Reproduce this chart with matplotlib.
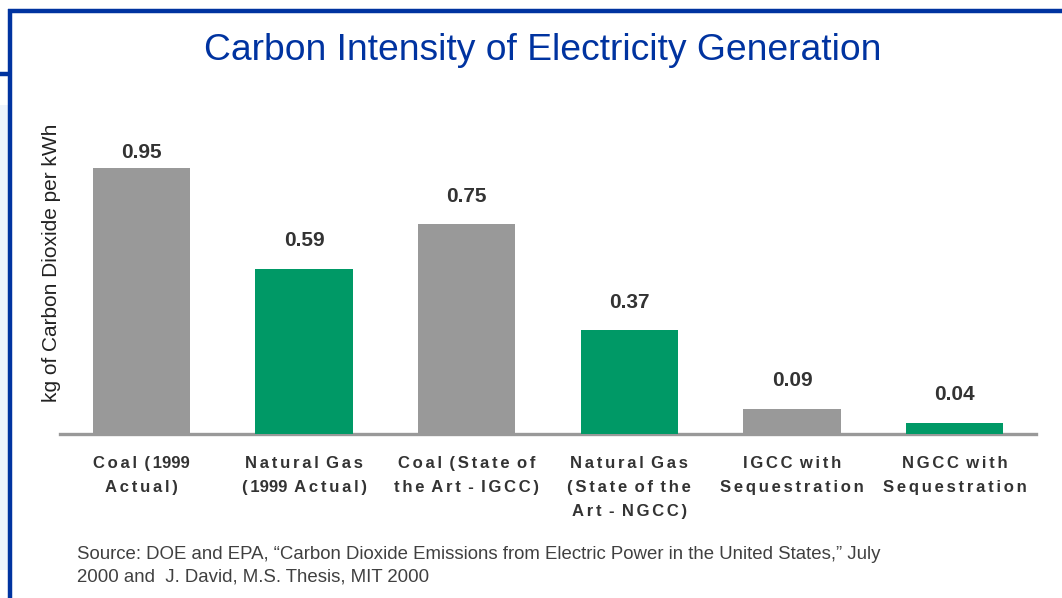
import matplotlib
matplotlib.use("Agg")
import matplotlib.pyplot as plt
from matplotlib.lines import Line2D
from matplotlib.patches import Rectangle

plt.rcParams['font.family'] = ['Liberation Sans', 'DejaVu Sans']

# ---- data -------------------------------------------------------------
categories = [
    "Coal (1999\nActual)",
    "Natural Gas\n(1999 Actual)",
    "Coal (State of\nthe Art - IGCC)",
    "Natural Gas\n(State of the\nArt - NGCC)",
    "IGCC with\nSequestration",
    "NGCC with\nSequestration",
]
values = [0.95, 0.59, 0.75, 0.37, 0.09, 0.04]
fuel = ["coal", "gas", "coal", "gas", "coal", "gas"]

title = "Carbon Intensity of Electricity Generation"
ylabel = "kg of Carbon Dioxide per kWh"
source = ("Source: DOE and EPA, \u201cCarbon Dioxide Emissions from Electric Power in the United States,\u201d July\n"
          "2000 and  J. David, M.S. Thesis, MIT 2000")

# ---- style ------------------------------------------------------------
colors = {"coal": "#999999", "gas": "#009966"}
frame_blue = "#0033A0"
text_dark = "#333333"
W, H = 1062, 598


def tracked(s, gap="\u2006"):
    """Spread letters apart with a narrow space between glyphs (digits stay tight)."""
    out = []
    for line in s.split("\n"):
        chars = []
        for i, c in enumerate(line):
            chars.append(c)
            if i == len(line) - 1 or c == " ":
                continue
            if c.isdigit() and line[i + 1].isdigit():
                continue
            chars.append(gap)
        out.append("".join(chars))
    return "\n".join(out)


fig = plt.figure(figsize=(W / 100, H / 100), dpi=100)
fig.patch.set_facecolor("white")

# slide frame decoration
fig.add_artist(Rectangle((0, 1 - 570 / H), 8 / W, (570 - 105) / H,
                         transform=fig.transFigure, facecolor="#EEF4FC",
                         edgecolor="none", zorder=0))
fig.add_artist(Line2D([8 / W, 1], [1 - 10.5 / H] * 2, transform=fig.transFigure,
                      color=frame_blue, lw=3.2, solid_capstyle="butt"))
fig.add_artist(Line2D([10 / W] * 2, [1 - 9 / H, 0], transform=fig.transFigure,
                      color=frame_blue, lw=3.2, solid_capstyle="butt"))
fig.add_artist(Line2D([0, 10 / W], [1 - 73.5 / H] * 2, transform=fig.transFigure,
                      color=frame_blue, lw=3.2, solid_capstyle="butt"))

# plot area: baseline at y=434px, 280 px per unit
px_per_unit = 280.0
ax_left, ax_right, ax_base, ax_top = 60, 1036, 434, 134
ax = fig.add_axes([ax_left / W, 1 - ax_base / H,
                   (ax_right - ax_left) / W, (ax_base - ax_top) / H])
ax.set_xlim(-0.5, len(values) - 0.5)
ax.set_ylim(0, (ax_base - ax_top) / px_per_unit)

x = list(range(len(values)))
ax.bar(x, values, width=0.6, color=[colors[f] for f in fuel], zorder=3)

label_cap = (ax_base - 152) / px_per_unit
for xi, v in zip(x, values):
    ax.text(xi, min(v + 0.1, label_cap), f"{v:.2f}", ha="center", va="center",
            fontsize=15, fontweight="bold", color=text_dark)

for side in ("top", "right", "left"):
    ax.spines[side].set_visible(False)
ax.spines["bottom"].set_color("#999999")
ax.spines["bottom"].set_linewidth(2.4)
ax.set_yticks([])
ax.set_xticks(x)
ax.set_xticklabels([tracked(c) for c in categories], fontsize=12,
                   fontweight="bold", color=text_dark, linespacing=1.75)
ax.tick_params(axis="x", length=0, pad=16)
ax.set_facecolor("none")

fig.text(52 / W, 1 - 263 / H, ylabel, rotation=90, ha="center", va="center",
         fontsize=15, color="#222222")
fig.text(543 / W, 1 - 51 / H, title, ha="center", va="center",
         fontsize=26.8, color=frame_blue)
fig.text(77 / W, 1 - 546 / H, source, ha="left", va="top",
         fontsize=13.4, color="#404040", linespacing=1.45)

fig.savefig("out.png", dpi=100)
